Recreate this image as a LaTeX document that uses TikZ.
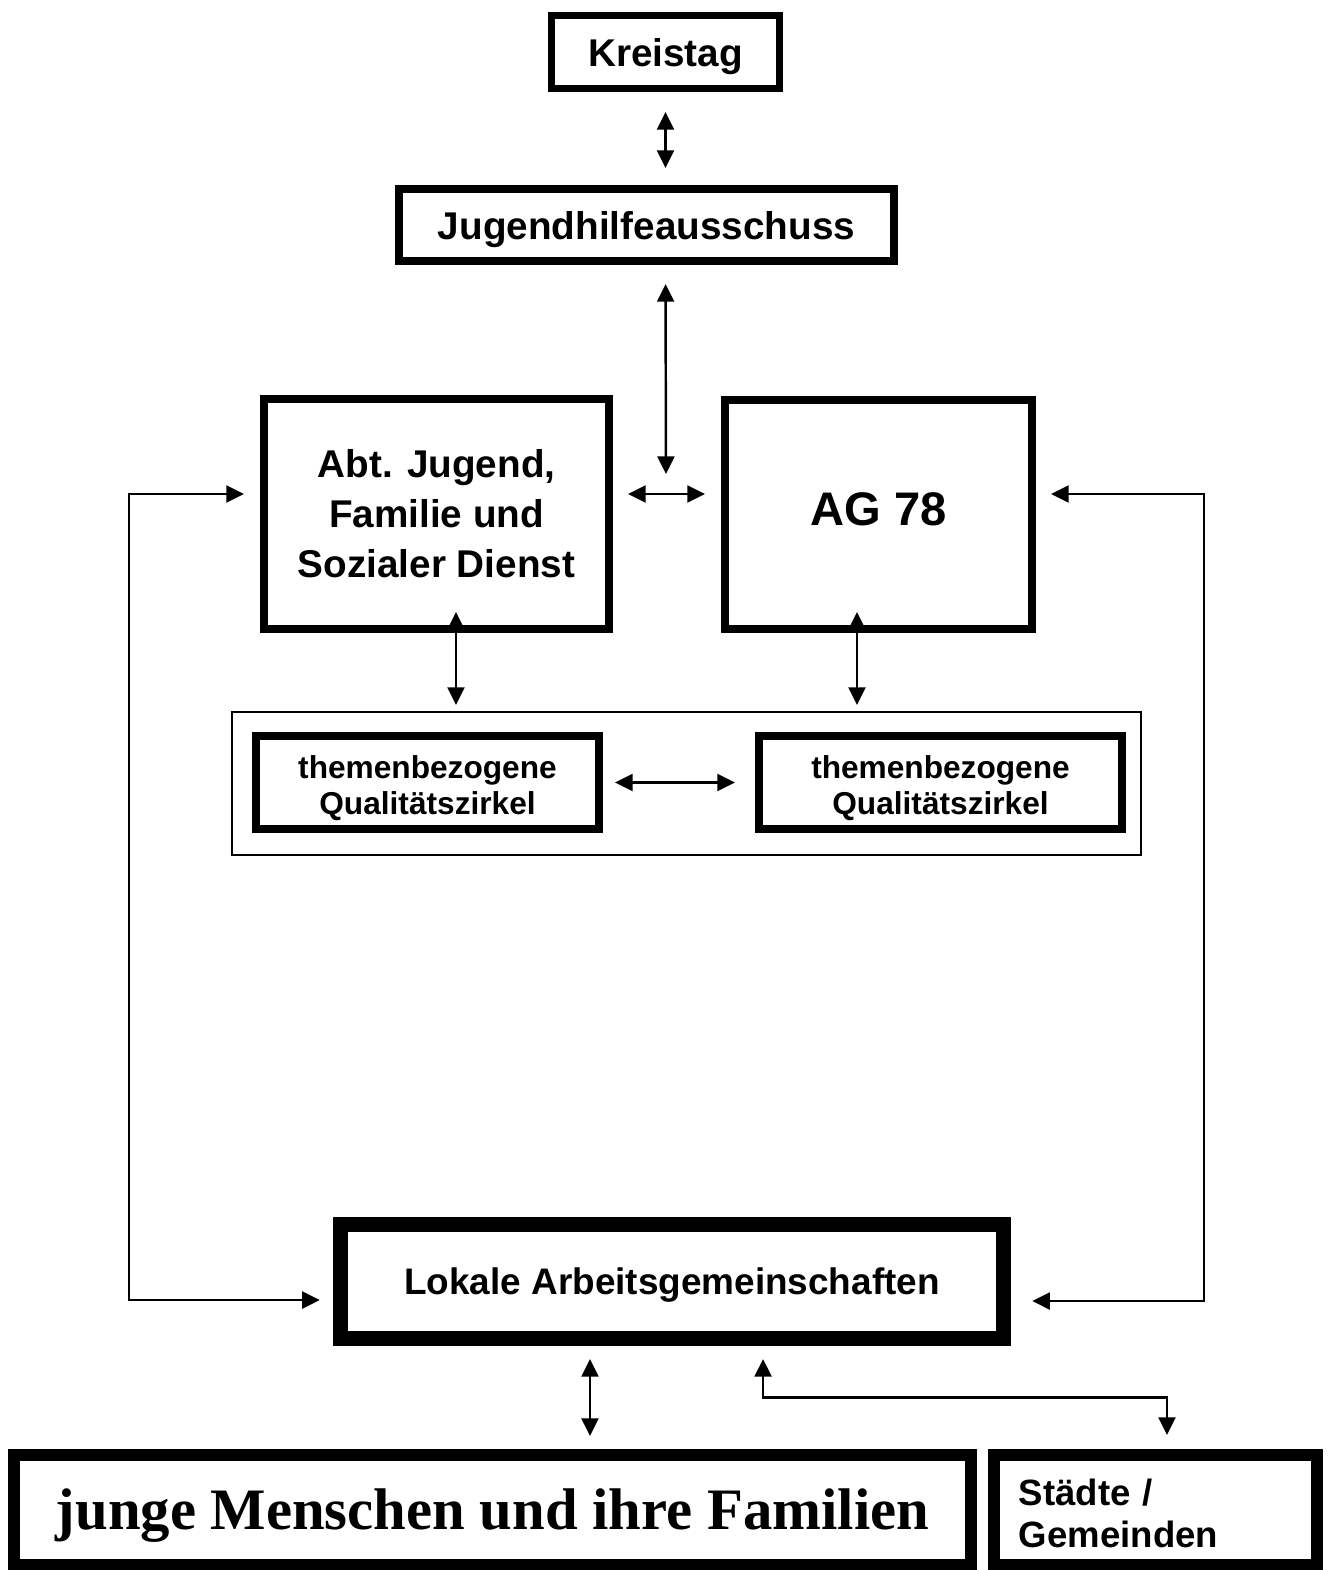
\documentclass[tikz,border=0pt]{standalone}
\usepackage{fontspec}
\setmainfont{Liberation Sans}
\newfontfamily\serifbold{Liberation Serif}
\usetikzlibrary{arrows.meta}

\begin{document}
\begin{tikzpicture}[x=0.01cm, y=-0.01cm, >={Triangle[length=5pt,width=4.8pt]},
  kasten/.style={draw, rectangle, inner sep=0pt, outer sep=0pt, align=center},
  pfeil/.style={<->, line width=0.7pt}]
\useasboundingbox (0,0) rectangle (1329,1570);
\node  (kt)[kasten, line width=2pt, minimum width=2.28cm, minimum height=0.73cm, text depth=0pt, font=\bfseries\fontsize{11}{14}\selectfont] at (665.5,52) {Kreistag};
\node  (jha)[kasten, line width=2.28pt, minimum width=4.95cm, minimum height=0.72cm, text depth=0pt, font=\bfseries\fontsize{11}{14}\selectfont] at (646.5,225) {Jugendhilfeausschuss};
\node  (abt)[kasten, line width=2.1pt, minimum width=3.45cm, minimum height=2.30cm, font=\bfseries\fontsize{11}{14.2}\selectfont] at (436.5,514) {Abt. Jugend,\\Familie und\\Sozialer Dienst};
\node  (ag)[kasten, line width=2.28pt, minimum width=3.07cm, minimum height=2.29cm, text height=9.6pt, text depth=3.4pt, font=\bfseries\fontsize{13.4}{16}\selectfont] at (878.5,514.5) {AG 78};
\node  (rahmen)[kasten, line width=0.57pt, minimum width=9.09cm, minimum height=1.43cm] at (686.5,783.5) {};
\node  (qz1)[kasten, line width=2.28pt, minimum width=3.43cm, minimum height=0.93cm, text height=18pt, text depth=0pt, font=\bfseries\fontsize{9}{10.2}\selectfont] at (427.5,782.5) {themenbezogene\\Qualitätszirkel};
\node  (qz2)[kasten, line width=2.28pt, minimum width=3.63cm, minimum height=0.93cm, text height=18pt, text depth=0pt, font=\bfseries\fontsize{9}{10.2}\selectfont] at (940.5,782.5) {themenbezogene\\Qualitätszirkel};
\node  (lak)[kasten, line width=4.27pt, minimum width=6.63cm, minimum height=1.14cm, text depth=0pt, font=\bfseries\fontsize{10.5}{13}\selectfont] at (672,1281.5) {Lokale Arbeitsgemeinschaften};
\node  (jm)[kasten, line width=3.41pt, minimum width=9.57cm, minimum height=1.10cm, text height=11pt, text depth=0pt, font=\serifbold\bfseries\fontsize{16.7}{20}\selectfont] at (492.5,1510) {junge Menschen und ihre Familien};
\node  (sg)[kasten, line width=3.41pt, minimum width=3.23cm, minimum height=1.10cm, align=left, text width=2.73cm, inner xsep=0.25cm, text height=10pt, text depth=12.8pt, font=\bfseries\fontsize{10.4}{12}\selectfont] at (1155.5,1510) {Städte /\\Gemeinden};
\coordinate (mid) at (666,494);
\coordinate (lft) at (129,1300);
\coordinate (rgt) at (1204,1301);
\draw[pfeil, shorten <=0.235cm, shorten >=0.21cm] (kt.south) -- (kt.south |- jha.north);
\draw[pfeil, shorten <=0.23cm, shorten >=0.20cm] (kt.south |- jha.south) -- (mid);
\draw[pfeil, shorten <=0.19cm, shorten >=0.20cm] (abt.east |- mid) -- (ag.west |- mid);
\draw[pfeil, shorten <=0.20cm, shorten >=0.205cm] (abt.west |- mid) -| (lft) -- (lak.west |- lft);
\draw[pfeil, shorten <=0.19cm, shorten >=0.285cm] (ag.east |- mid) -| (rgt) -- (lak.east |- rgt);
\draw[pfeil, shorten <=-0.17cm, shorten >=0.07cm] ([xshift=0.195cm]abt.south) -- ([xshift=0.195cm]abt.south |- rahmen.north);
\draw[pfeil, shorten <=-0.17cm, shorten >=0.07cm] ([xshift=-0.215cm]ag.south) -- ([xshift=-0.215cm]ag.south |- rahmen.north);
\draw[pfeil, shorten <=0.16cm, shorten >=0.24cm] (qz1.east) -- (qz2.west);
\draw[pfeil, shorten <=0.205cm, shorten >=0.19cm] ([xshift=-0.82cm]lak.south) -- ([xshift=-0.82cm]lak.south |- jm.north);
\draw[pfeil, shorten <=0.205cm, shorten >=0.20cm] ([xshift=0.91cm]lak.south) -- ++(0,59) -| ([xshift=0.115cm]sg.north);
\end{tikzpicture}
\end{document}
